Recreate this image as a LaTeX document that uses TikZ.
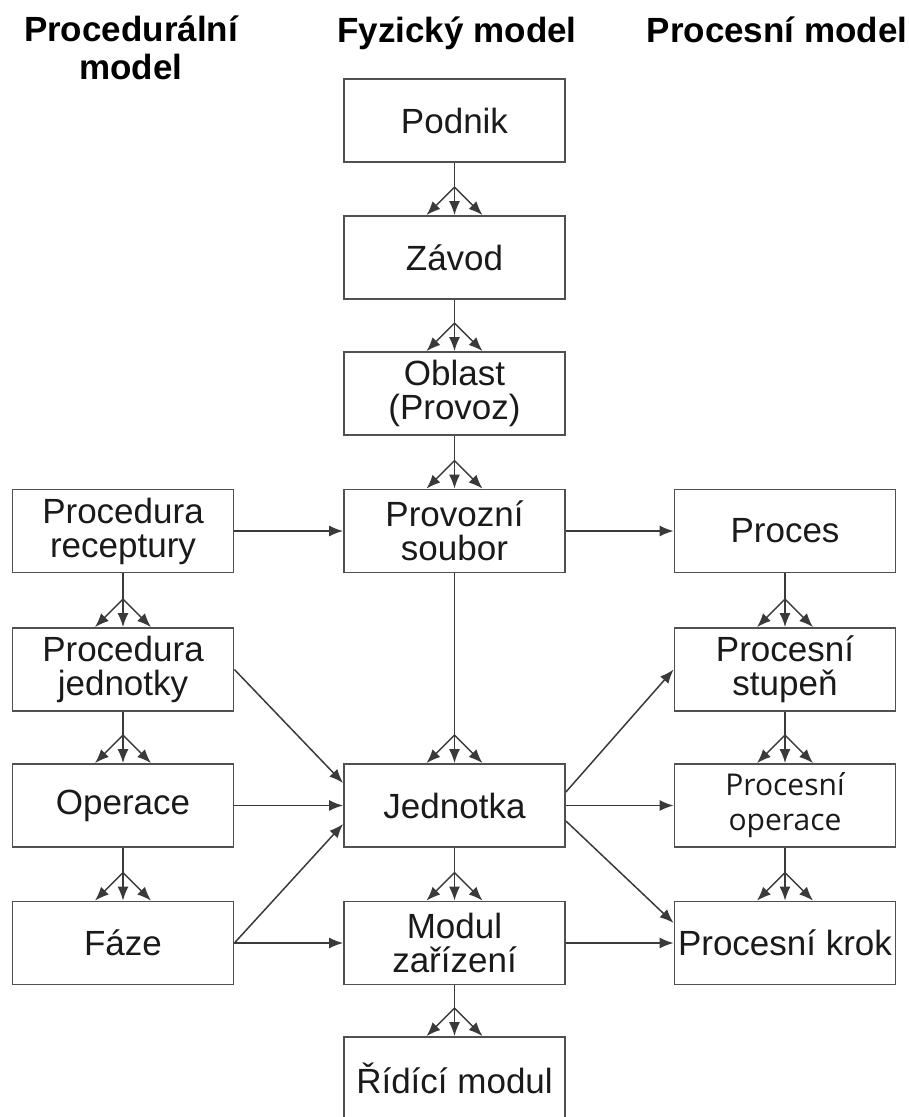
\documentclass[tikz,border=0pt]{standalone}
\usepackage{fontspec}
\setmainfont{Liberation Sans}
\newfontfamily\osans{Open Sans}
\usetikzlibrary{arrows.meta,calc}
\definecolor{boxgray}{HTML}{505050}
\definecolor{linegray}{HTML}{3A3A3A}
\definecolor{txt}{HTML}{1A1A1A}
\tikzset{
  box/.style={draw=boxgray, line width=1.8pt, minimum width=221pt, minimum height=83pt,
    inner sep=0pt, align=center, font=\fontsize{35}{34}\selectfont, text=txt},
  conn/.style={draw=linegray, line width=1.5pt},
  arr/.style={conn, -{Latex[length=14pt,width=11pt]}},
  head/.style={font=\bfseries\fontsize{35}{38}\selectfont, align=center, inner sep=0pt, text=black}
}
\newcommand\forkto[2]{%
  \draw[conn] (#1.south) -- ($(#2.north)+(0,-28)$) coordinate (fk);
  \draw[arr] (fk) -- ($(#2.north)+(-28,0)$);
  \draw[arr] (fk) -- (#2.north);
  \draw[arr] (fk) -- ($(#2.north)+(28,0)$);
}
\begin{document}
\begin{tikzpicture}[x=1pt,y=-1pt]
\useasboundingbox (0,0) rectangle (909,1117);
\clip (0,0) rectangle (909,1117);
% headers
\node[head] (h1) at (131,48) {Procedurální\\model};
\node[head,anchor=base] (h2) at (457,42) {Fyzický model};
\node[head,anchor=base] (h3) at (777,42) {Procesní model};
% centre column
\node[box] (podnik) at (454.5,120.5) {Podnik};
\node[box] (zavod) at (454.5,257.5) {Závod};
\node[box] (oblast) at (454.5,393.5) {Oblast\\(Provoz)};
\node[box] (provoz) at (454.5,531) {Provozní\\soubor};
\node[box] (jed) at (454.5,805.5) {Jednotka};
\node[box] (modul) at (454.5,943) {Modul\\zařízení};
\node[box] (ridici) at (454.5,1078.5) {Řídící modul};
% left column
\node[box] (recept) at (123,531) {Procedura\\receptury};
\node[box] (pjed) at (123,669.5) {Procedura\\jednotky};
\node[box] (oper) at (123,805.5) {Operace};
\node[box] (faze) at (123,943) {Fáze};
% right column
\node[box] (proces) at (785,531) {Proces};
\node[box] (stupen) at (785,669.5) {Procesní\\stupeň};
\node[box,font=\osans\fontsize{30}{35}\selectfont] (poper) at (785,805.5) {Procesní\\operace};
\node[box] (krok) at (785,943) {Procesní krok};
% forks
\forkto{podnik}{zavod}
\forkto{zavod}{oblast}
\forkto{oblast}{provoz}
\forkto{provoz}{jed}
\forkto{jed}{modul}
\forkto{modul}{ridici}
\forkto{recept}{pjed}
\forkto{pjed}{oper}
\forkto{oper}{faze}
\forkto{proces}{stupen}
\forkto{stupen}{poper}
\forkto{poper}{krok}
% horizontal / diagonal links
\draw[arr] (recept.east) -- (provoz.west);
\draw[arr] (provoz.east) -- (proces.west);
\draw[arr] (pjed.east) -- ([yshift=22.5pt]jed.west);
\draw[arr] (oper.east) -- (jed.west);
\draw[arr] (faze.east) -- ([yshift=-18.5pt]jed.west);
\draw[arr] (faze.east) -- (modul.west);
\draw[arr] ([yshift=13.5pt]jed.east) -- (stupen.west);
\draw[arr] (jed.east) -- (poper.west);
\draw[arr] ([yshift=-15.5pt]jed.east) -- ([yshift=20pt]krok.west);
\draw[arr] (modul.east) -- (krok.west);
\end{tikzpicture}
\end{document}
